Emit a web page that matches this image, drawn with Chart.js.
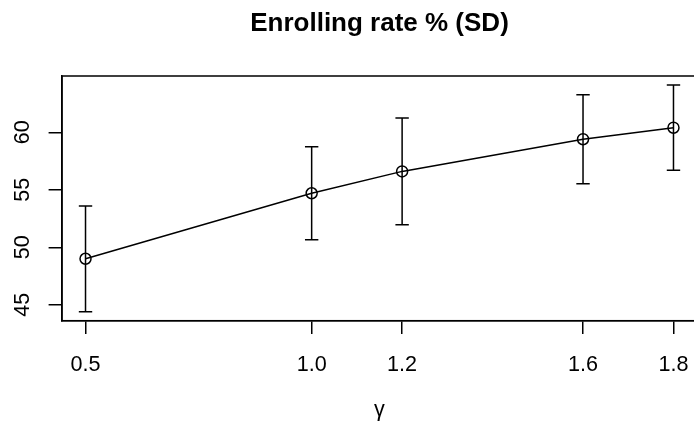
<!DOCTYPE html>
<html>
<head>
<meta charset="utf-8">
<script src="https://cdn.jsdelivr.net/npm/chart.js@4"></script>
<style>
  html, body { margin: 0; padding: 0; background: #fff; overflow: hidden; }
  canvas { display: block; }
</style>
</head>
<body>
<canvas id="rateChart" width="704" height="423"></canvas>
<script>
// Data
const gammaValues = [0.5, 1.0, 1.2, 1.6, 1.8];
const meanRate = [49.0, 54.7, 56.6, 59.4, 60.4];
const sdRate = [4.6, 4.05, 4.65, 3.87, 3.71];
const xTickValues = [0.5, 1.0, 1.2, 1.6, 1.8];
const yTickValues = [45, 50, 55, 60];

const FONT = "'Liberation Sans', Arial, Helvetica, sans-serif";

// R-style axis ranges: data range stretched 4% on each side
function rRange(lo, hi) {
  const ext = (hi - lo) * 0.04;
  return [lo - ext, hi + ext];
}
const xRange = rRange(Math.min(...gammaValues), Math.max(...gammaValues));
const yRange = rRange(
  Math.min(...meanRate.map((m, i) => m - sdRate[i])),
  Math.max(...meanRate.map((m, i) => m + sdRate[i]))
);

// Error bars with caps, drawn through the chart scales
const errorBars = {
  id: 'errorBars',
  afterDatasetsDraw(chart) {
    const { ctx, scales: { x, y } } = chart;
    const cap = 6.7;
    ctx.save();
    ctx.strokeStyle = '#000';
    ctx.lineWidth = 1.5;
    gammaValues.forEach((g, i) => {
      const px = x.getPixelForValue(g);
      const top = y.getPixelForValue(meanRate[i] + sdRate[i]);
      const bot = y.getPixelForValue(meanRate[i] - sdRate[i]);
      ctx.beginPath();
      ctx.moveTo(px, top); ctx.lineTo(px, bot);
      ctx.moveTo(px - cap, top); ctx.lineTo(px + cap, top);
      ctx.moveTo(px - cap, bot); ctx.lineTo(px + cap, bot);
      ctx.stroke();
    });
    ctx.restore();
  }
};

// Box round the plot region and the main title centred over it
const frame = {
  id: 'frame',
  afterDraw(chart) {
    const { ctx, chartArea: a } = chart;
    ctx.save();
    ctx.strokeStyle = '#000';
    ctx.lineWidth = 1.5;
    ctx.strokeRect(a.left, a.top, a.right - a.left, a.bottom - a.top);
    ctx.fillStyle = '#000';
    ctx.font = 'bold 26px ' + FONT;
    ctx.textAlign = 'center';
    ctx.textBaseline = 'alphabetic';
    ctx.fillText('Enrolling rate % (SD)', (a.left + a.right) / 2, 31);
    ctx.restore();
  }
};

// keep the plot region fixed: no extra room for end labels
function noPad(s) {
  s.paddingLeft = 0; s.paddingRight = 0;
  s.paddingTop = 0; s.paddingBottom = 0;
}

const ctx = document.getElementById('rateChart').getContext('2d');
new Chart(ctx, {
  type: 'line',
  data: {
    datasets: [{
      data: gammaValues.map((g, i) => ({ x: g, y: meanRate[i] })),
      borderColor: '#000',
      borderWidth: 1.5,
      tension: 0,
      fill: false,
      pointStyle: 'circle',
      pointRadius: 5.5,
      pointBorderWidth: 1.5,
      pointBorderColor: '#000',
      pointBackgroundColor: 'rgba(0,0,0,0)'
    }]
  },
  options: {
    responsive: false,
    animation: false,
    devicePixelRatio: 1,
    layout: { padding: { left: 0, right: 5.4, top: 76, bottom: 0 } },
    plugins: {
      legend: { display: false },
      tooltip: { enabled: false },
      title: { display: false }
    },
    scales: {
      x: {
        type: 'linear',
        min: xRange[0],
        max: xRange[1],
        afterBuildTicks: s => { s.ticks = xTickValues.map(v => ({ value: v })); },
        afterFit: s => { s.height = 102.3; noPad(s); },
        grid: { drawOnChartArea: false, drawTicks: true, tickLength: 13.4, color: '#000', lineWidth: 1.5 },
        border: { display: true, color: '#000', width: 1.5 },
        ticks: {
          padding: 18,
          color: '#000',
          maxRotation: 0,
          autoSkip: false,
          font: { family: FONT, size: 21.6 },
          callback: v => Number(v).toFixed(1)
        },
        title: {
          display: true,
          text: 'γ',
          color: '#000',
          font: { family: FONT, size: 21.6 },
          padding: { top: 0, bottom: 0 }
        }
      },
      y: {
        type: 'linear',
        min: yRange[0],
        max: yRange[1],
        afterBuildTicks: s => { s.ticks = yTickValues.map(v => ({ value: v })); },
        afterFit: s => { s.width = 62; noPad(s); },
        grid: { drawOnChartArea: false, drawTicks: true, tickLength: 13.4, color: '#000', lineWidth: 1.5 },
        border: { display: true, color: '#000', width: 1.5 },
        ticks: {
          padding: 13.4,
          color: '#000',
          minRotation: 90,
          maxRotation: 90,
          crossAlign: 'center',
          autoSkip: false,
          font: { family: FONT, size: 21.6 },
          callback: v => String(v)
        }
      }
    }
  },
  plugins: [errorBars, frame]
});
</script>
</body>
</html>
